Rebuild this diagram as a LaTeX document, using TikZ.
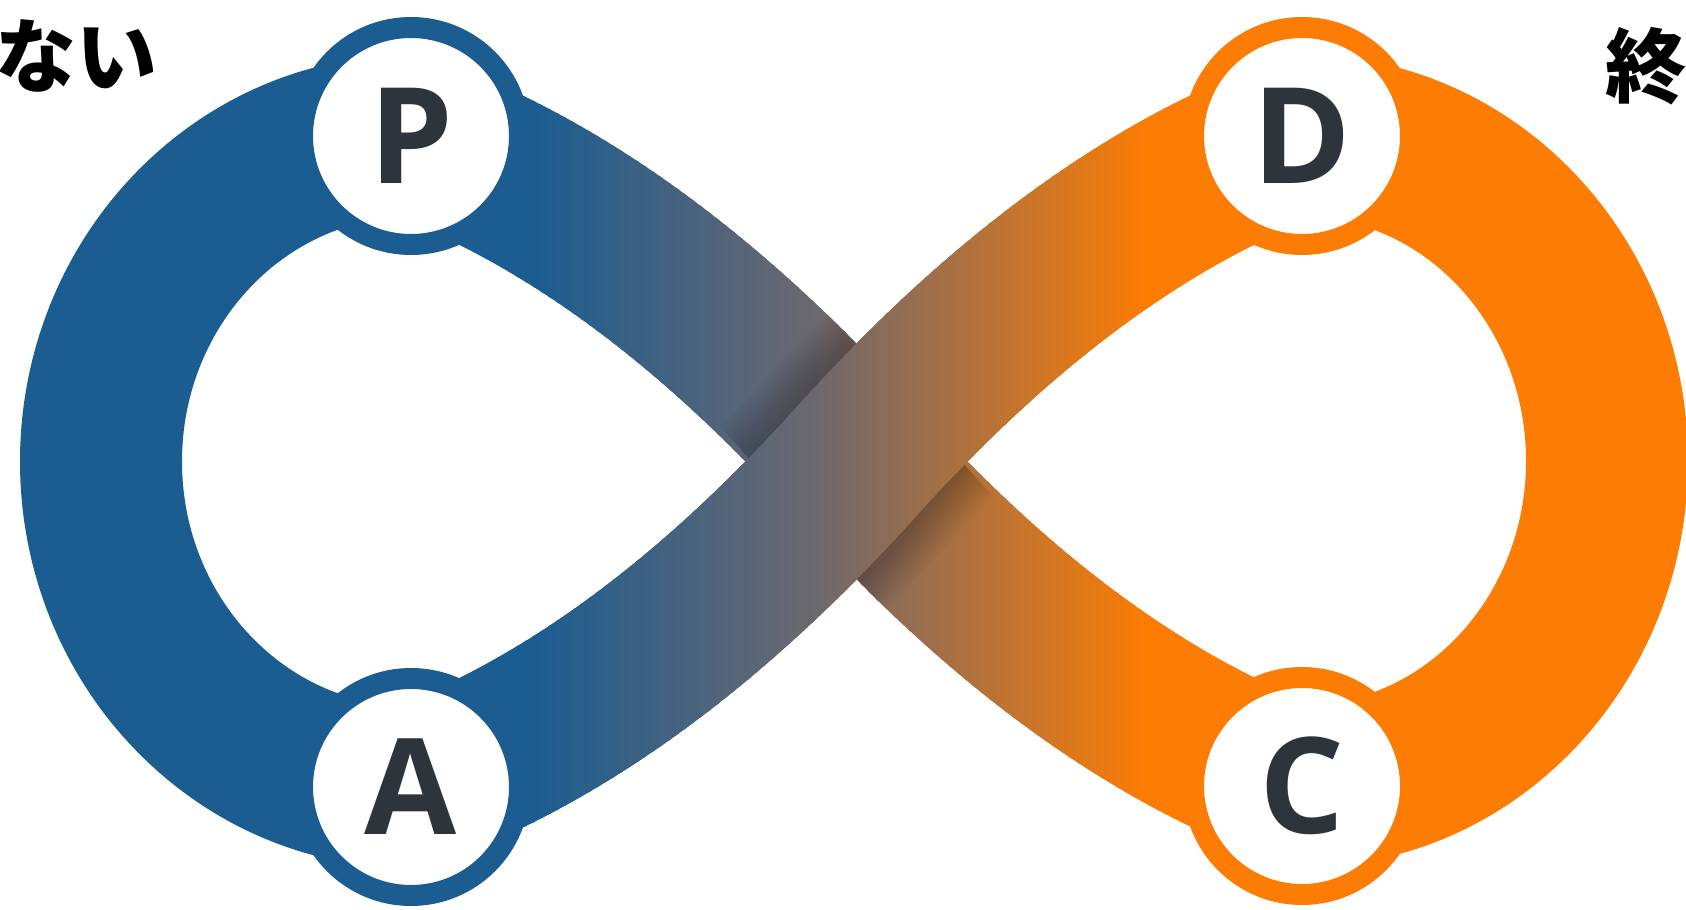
\documentclass[tikz,border=0pt]{standalone}
\usepackage{fontspec}
\newfontfamily\jpfont{Noto Sans CJK JP}
\newfontfamily\letterfont{Open Sans}
\usepackage{xcolor}
\usepackage{tikz}

\definecolor{loopblue}{RGB}{27,93,145}
\definecolor{loopgrey}{RGB}{108,104,110}
\definecolor{looporange}{RGB}{252,124,4}
\definecolor{letterink}{RGB}{45,52,60}

% centre line of the whole band
\newcommand{\loopline}{(cA) .. controls +(20:1.6) and +(228:2.2) .. (cO)
  .. controls +(48:2.2) and +(200:1.6) .. (cD)
  arc[start angle=90, end angle=-90, x radius=3.05, y radius=3.25]
  .. controls +(160:1.6) and +(-48:2.2) .. (cO)
  .. controls +(132:2.2) and +(-20:1.6) .. (cP)
  arc[start angle=90, end angle=270, x radius=3.1, y radius=3.255] -- cycle}
% strand lying on top at the crossing
\newcommand{\topstrand}{(cA) .. controls +(20:1.6) and +(228:2.2) .. (cO)
  .. controls +(48:2.2) and +(200:1.6) .. (cD)}

% blue -> grey -> orange, in thin vertical strips
\newcommand{\paintband}[1]{%
  \begin{scope}
    \clip (0,0) rectangle (5.0,9.09);
    \draw[band, loopblue] #1;
  \end{scope}
  \begin{scope}
    \clip (11.8,0) rectangle (16.86,9.09);
    \draw[band, looporange] #1;
  \end{scope}
  \foreach \i in {0,...,84}{
    \pgfmathsetmacro{\xa}{5.0+0.08*\i}
    \pgfmathtruncatemacro{\pb}{max(0,min(100,100*(8.1-\xa)/2.8))}
    \pgfmathtruncatemacro{\po}{max(0,min(100,100*(\xa-8.1)/3.3))}
    \colorlet{mixa}{loopblue!\pb!loopgrey}
    \colorlet{stripcol}{looporange!\po!mixa}
    \begin{scope}
      \clip (\xa,0) rectangle ({\xa+0.11},9.09);
      \draw[band, stripcol] #1;
    \end{scope}
  }}

\begin{document}
\begin{tikzpicture}
	[
		band/.style={line width=16.2mm},
		stage/.style={circle, draw=#1, line width=2.1mm, fill=white,
			minimum size=21.7mm, inner sep=0pt, text=letterink,
			font=\letterfont\bfseries\fontsize{38}{40}\selectfont},
		caption/.style={inner sep=0pt, text=black,
			font=\jpfont\bfseries\fontsize{23}{26}\selectfont}
	]
	\useasboundingbox (0,0) rectangle (16.86,9.09);
	\clip (0,0) rectangle (16.86,9.09);

	\coordinate (cP) at (4.11,7.73);
	\coordinate (cA) at (4.11,1.22);
	\coordinate (cD) at (13.02,7.73);
	\coordinate (cC) at (13.02,1.23);
	\coordinate (cO) at (8.565,4.475);

	% band, then soft shadow on the lower strand, then the upper strand
	\paintband{\loopline}
	\begin{scope}
		\clip[shift={(cO)}, rotate=132] (-1.45,-0.78) rectangle (1.45,0.78);
		\foreach \w in {16.6,17.4,...,24.6}
			\draw[line width=\w mm, black, opacity=0.022] \topstrand;
	\end{scope}
	\paintband{\topstrand}

	\node[stage=loopblue] (P) at (cP) {P};
	\node[stage=looporange] (D) at (cD) {D};
	\node[stage=loopblue] (A) at (cA) {A};
	\node[stage=looporange] (C) at (cC) {C};

	\node[caption, anchor=base east] (lefttext) at (1.58,8.22) {はない};
	\node[caption, anchor=base west] (righttext) at (16.05,8.12) {終わ};
\end{tikzpicture}
\end{document}
